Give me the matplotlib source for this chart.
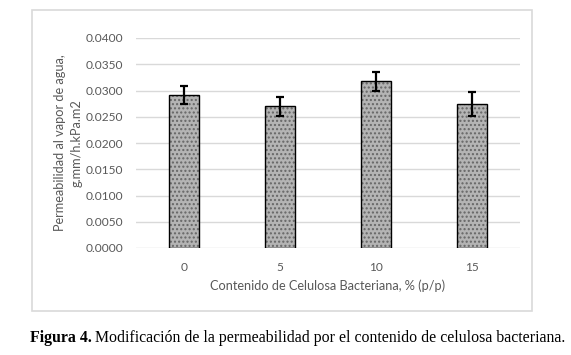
import numpy as np
import matplotlib
matplotlib.use("Agg")
import matplotlib.pyplot as plt
from matplotlib.patches import Rectangle

# data
contenido = ["0", "5", "10", "15"]
permeabilidad = [0.0291, 0.0270, 0.0318, 0.0275]
error = [0.0017, 0.0018, 0.0018, 0.0023]
yticks = [0.0, 0.005, 0.010, 0.015, 0.020, 0.025, 0.030, 0.035, 0.040]

W, H = 571, 355
fig = plt.figure(figsize=(W / 100, H / 100), dpi=100)
fig.patch.set_facecolor("white")

# light gray chart frame like the excel chart area
fig.add_artist(Rectangle((32 / W, 1 - 311 / H), 500 / W, 301 / H,
                         transform=fig.transFigure, fill=False,
                         edgecolor="#d9d9d9", lw=1.2))

ax = fig.add_axes([136 / W, 1 - 248 / H, 384 / W, 210 / H])
x = np.arange(len(contenido))

# gray fill with a dotted texture, then black outline on top
ax.bar(x, permeabilidad, width=0.32, color="#b4b4b4", edgecolor="#666666",
       hatch="....", linewidth=0, zorder=2)
ax.bar(x, permeabilidad, width=0.32, fill=False, edgecolor="black",
       linewidth=1.0, zorder=3)
ax.errorbar(x, permeabilidad, yerr=error, fmt="none", ecolor="black",
            elinewidth=1.6, capsize=3, capthick=1.6, zorder=4)

ax.set_xlim(-0.5, len(contenido) - 0.5)
ax.set_ylim(0, 0.04)
ax.set_yticks(yticks)
ax.set_yticklabels(["%.4f" % v for v in yticks])
ax.set_xticks(x)
ax.set_xticklabels(contenido)
ax.grid(axis="y", color="#d9d9d9", linewidth=1.0, zorder=0)
ax.set_axisbelow(True)
for s in ax.spines.values():
    s.set_visible(False)
ax.tick_params(length=0, colors="#595959", labelsize=8.6, pad=9)
ax.tick_params(axis="x", pad=10)
for lab in ax.get_xticklabels() + ax.get_yticklabels():
    lab.set_fontfamily("Lato")

ax.set_xlabel("Contenido de Celulosa Bacteriana, % (p/p)", fontsize=9.2,
              color="#595959", family="Lato", labelpad=5)
ax.set_ylabel("Permeabilidad al vapor de agua,\ng.mm/h.kPa.m2", fontsize=9.2,
              color="#595959", family="Lato", labelpad=2, linespacing=1.45)

# caption below the chart: bold label then regular text
t1 = fig.text(30 / W, 1 - 338 / H, "Figura 4.", fontsize=11.4, weight="bold",
              family="Liberation Serif", va="center", ha="left")
fig.canvas.draw()
bb = t1.get_window_extent(fig.canvas.get_renderer())
fig.text(bb.x1 / W + 3 / W, 1 - 338 / H,
         "Modificación de la permeabilidad por el contenido de celulosa bacteriana.",
         fontsize=11.4, family="Liberation Serif", va="center", ha="left")

fig.savefig("out.png", dpi=100)
